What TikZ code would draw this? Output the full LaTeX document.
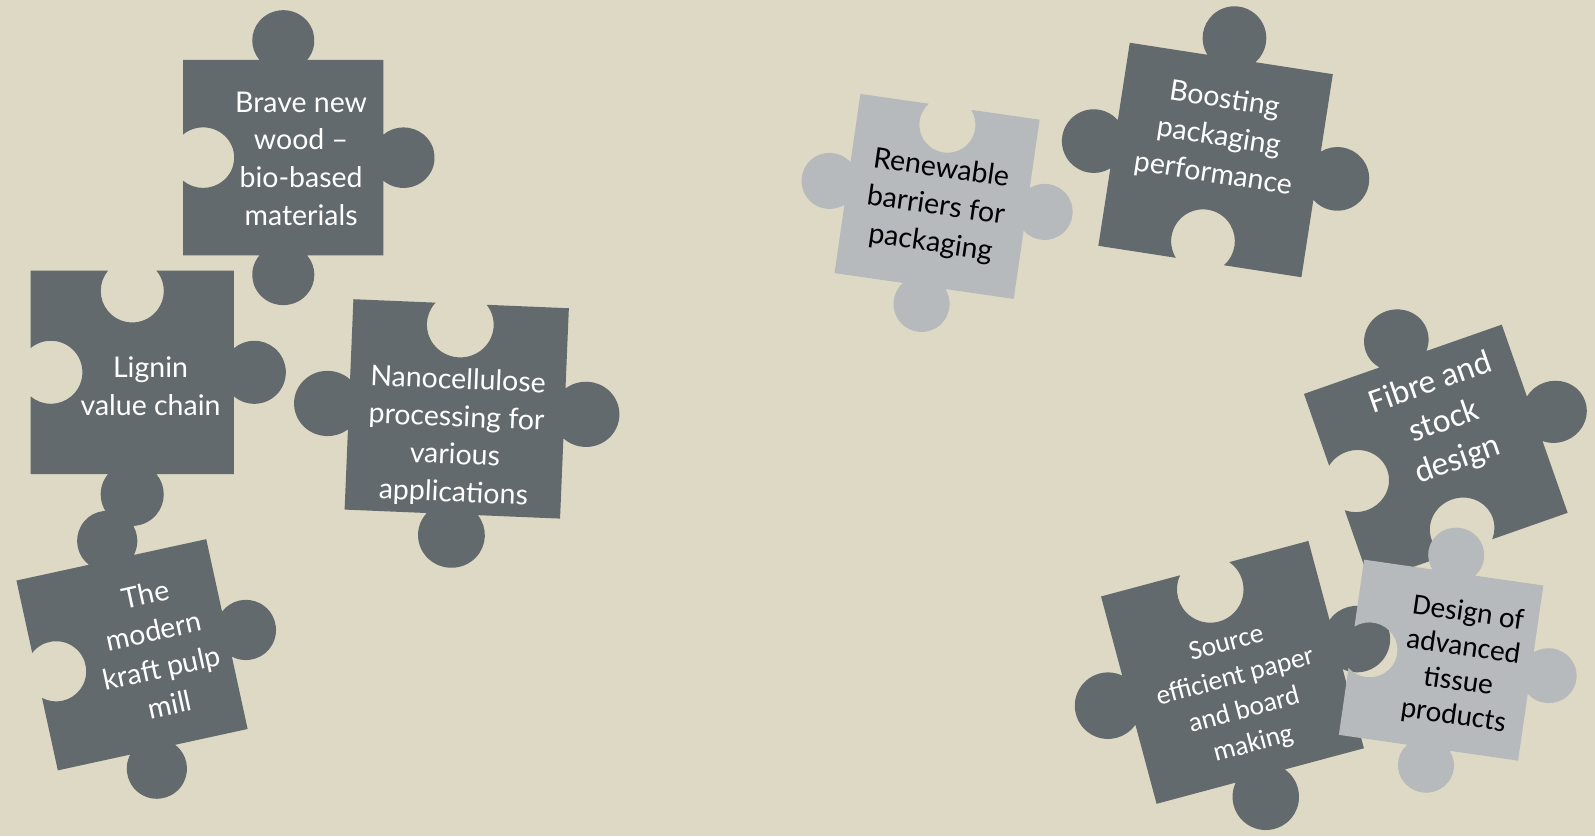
\documentclass[tikz,border=0pt]{standalone}
\usepackage{fontspec}
\newfontfamily\gillfont{Lato}
\newfontfamily\califont{Carlito}
\definecolor{bgbeige}{RGB}{221,217,196}
\definecolor{pzdark}{RGB}{99,106,109}
\definecolor{pzlight}{RGB}{182,186,189}
% edges of a unit puzzle piece (half side 100, knob radius 31, knob centre 20 off the edge)
\def\pzTo{-- (23.69,100) arc[start angle=-40.18,end angle=220.18,radius=31] -- (-100,100)}
\def\pzTi{-- (23.69,100) arc[start angle=40.18,end angle=-220.18,radius=31] -- (-100,100)}
\def\pzLo{-- (-100,23.69) arc[start angle=49.82,end angle=310.18,radius=31] -- (-100,-100)}
\def\pzLi{-- (-100,23.69) arc[start angle=130.18,end angle=-130.18,radius=31] -- (-100,-100)}
\def\pzBo{-- (-23.69,-100) arc[start angle=139.82,end angle=400.18,radius=31] -- (100,-100)}
\def\pzBi{-- (-23.69,-100) arc[start angle=220.18,end angle=-40.18,radius=31] -- (100,-100)}
\def\pzRo{-- (100,-23.69) arc[start angle=229.82,end angle=490.18,radius=31] -- (100,100)}
\def\pzRi{-- (100,-23.69) arc[start angle=310.18,end angle=49.82,radius=31] -- (100,100)}
% \puz{cx}{cy (from top)}{transform}{T}{R}{B}{L}{colour}
\newcommand\puz[8]{%
  \fill[#8, shift={(#1,822-#2)}, #3] (100,100) \csname pzT#4\endcsname \csname pzL#7\endcsname \csname pzB#6\endcsname \csname pzR#5\endcsname -- cycle;}
\tikzset{
  darktxt/.style={text=white, align=center, inner sep=0pt},
  lighttxt/.style={text=black, align=center, inner sep=0pt},
  gilltxt/.style={font=\gillfont\fontsize{14}{18.5}\selectfont},
}
\begin{document}
\begin{tikzpicture}[x=0.5pt,y=0.5pt]
\fill[bgbeige] (0,0) rectangle (1568,822);
\useasboundingbox (0,0) rectangle (1568,822);
% left group
\puz{278.5}{155}{xscale=0.985,yscale=0.96}{o}{o}{o}{i}{pzdark}
\puz{130}{366}{scale=1}{i}{o}{o}{i}{pzdark}
\puz{449}{402}{rotate=-2.4,xscale=1.06,yscale=1.035}{i}{o}{o}{o}{pzdark}
\puz{129.8}{643.7}{rotate=12.3,scale=0.955}{o}{o}{o}{i}{pzdark}
% right group
\puz{921.2}{193.1}{rotate=-8.2,scale=0.89}{i}{o}{o}{o}{pzlight}
\puz{1195}{157.3}{rotate=-8.8,scale=1.01}{o}{o}{i}{o}{pzdark}
\puz{1411.5}{445.7}{rotate=19.3,xscale=1.03,yscale=0.98}{o}{o}{i}{i}{pzdark}
\puz{1211.6}{661}{rotate=15,scale=1.055}{i}{o}{o}{o}{pzdark}
\puz{1416.7}{649}{rotate=-8.2,xscale=0.89,yscale=0.87}{o}{o}{o}{i}{pzlight}
% texts
\node[darktxt,gilltxt] (t1) at (296,822-156) {Brave new\\wood \textendash\\bio-based\\materials};
\node[darktxt,gilltxt] (t2) at (148,822-380) {Lignin\\value chain};
\node[darktxt,gilltxt,rotate=-2.4] (t3) at (448,822-430) {Nanocellulose\\processing for\\various\\applications};
\node[darktxt,gilltxt,rotate=12.3] (t4) at (155,822-638) {The\\modern\\kraft pulp\\mill};
\node[lighttxt,gilltxt,rotate=-8.2] (t5) at (920,822-203) {Renewable\\barriers for\\packaging};
\node[darktxt,gilltxt,rotate=-8.8] (t6) at (1198,822-135) {Boosting\\packaging\\performance};
\node[darktxt,font=\califont\fontsize{16.5}{20}\selectfont,rotate=19.3] (t7) at (1420,822-415) {Fibre and\\stock\\design};
\node[darktxt,font=\califont\fontsize{13.5}{17}\selectfont,rotate=15] (t8) at (1219,822-683) {Source\\efficient paper\\and board\\making};
\node[lighttxt,font=\califont\fontsize{14.5}{17}\selectfont,rotate=-8.2] (t9) at (1436,822-654) {Design of\\advanced\\tissue\\products};
\end{tikzpicture}
\end{document}
